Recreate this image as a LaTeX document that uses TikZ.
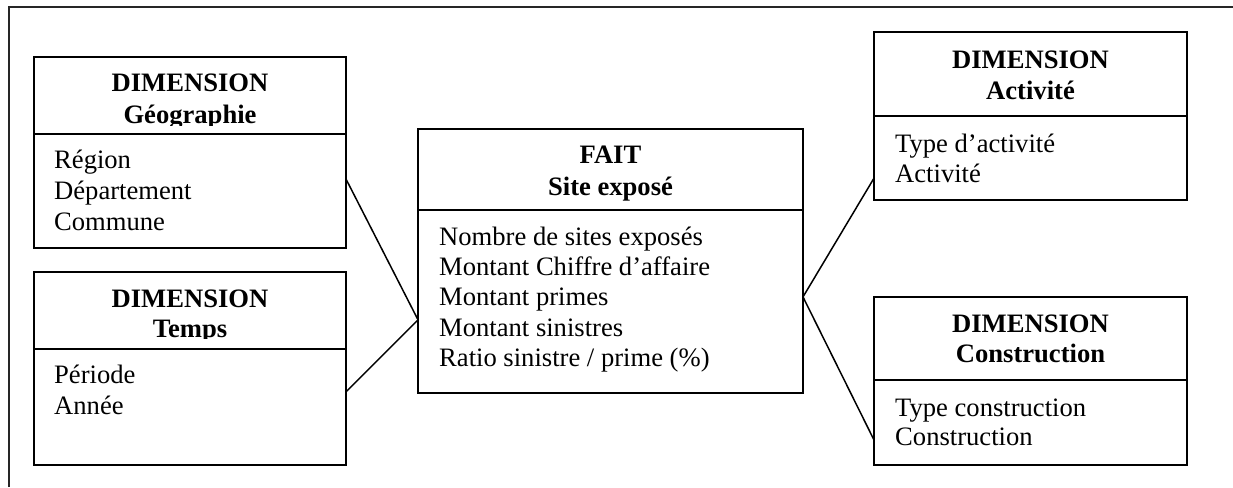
\documentclass[tikz,border=0pt]{standalone}
\usepackage{fontspec}
\setmainfont{Liberation Serif}
\usetikzlibrary{calc}
\begin{document}
\begin{tikzpicture}[x=1pt,y=-1pt,
  cell/.style={draw, line width=2.2pt, fill=white, inner sep=0pt, outer sep=0pt, anchor=north west},
  head/.style={font=\fontsize{26.6}{31}\selectfont\bfseries, anchor=base, inner sep=0pt},
  item/.style={font=\fontsize{26.6}{31}\selectfont, anchor=base west, inner sep=0pt},
  link/.style={line width=1.5pt},
  frame/.style={line width=1.7pt, draw=black!85}]
\useasboundingbox (0,0) rectangle (1233,487);
% outer frame (left and top edges)
\coordinate (fbl) at (9,487);
\coordinate (ftl) at (9,7);
\coordinate (ftr) at (1233,7);
\draw[frame] (fbl) -- (ftl) -- (ftr);

% DIMENSION Geographie
\node[cell, minimum width=312pt, minimum height=77pt] (geoh) at (34,57) {};
\begin{scope}
\clip (34,57) rectangle (346,125.5);
\node[head] (geot1) at (190,92) {DIMENSION};
\node[head] (geot2) at (190,123) {Géographie};
\end{scope}
\node[cell, minimum width=312pt, minimum height=114pt] (geob) at (34,134) {};
\node[item] (geoi1) at (54,168) {Région};
\node[item] (geoi2) at (54,199) {Département};
\node[item] (geoi3) at (54,230) {Commune};

% DIMENSION Temps
\node[cell, minimum width=312pt, minimum height=77pt] (temh) at (34,272) {};
\begin{scope}
\clip (34,272) rectangle (346,338.5);
\node[head] (temt1) at (190,307) {DIMENSION};
\node[head] (temt2) at (190,337) {Temps};
\end{scope}
\node[cell, minimum width=312pt, minimum height=116pt] (temb) at (34,349) {};
\node[item] (temi1) at (54,383) {Période};
\node[item] (temi2) at (54,414) {Année};

% FAIT Site expose
\node[cell, minimum width=385pt, minimum height=81pt] (fach) at (418,129) {};
\node[head] (fact1) at (610.5,163) {FAIT};
\node[head] (fact2) at (610.5,195) {Site exposé};
\node[cell, minimum width=385pt, minimum height=183pt] (facb) at (418,210) {};
\node[item] (faci1) at (439,245) {Nombre de sites exposés};
\node[item] (faci2) at (439,275) {Montant Chiffre d’affaire};
\node[item] (faci3) at (439,305.5) {Montant primes};
\node[item] (faci4) at (439,336) {Montant sinistres};
\node[item] (faci5) at (439,366) {Ratio sinistre / prime (\%)};

% DIMENSION Activite
\node[cell, minimum width=313pt, minimum height=84pt] (acth) at (874,32) {};
\node[head] (actt1) at (1030.5,68) {DIMENSION};
\node[head] (actt2) at (1030.5,99) {Activité};
\node[cell, minimum width=313pt, minimum height=84pt] (actb) at (874,116) {};
\node[item] (acti1) at (895,152) {Type d’activité};
\node[item] (acti2) at (895,182) {Activité};

% DIMENSION Construction
\node[cell, minimum width=313pt, minimum height=83pt] (conh) at (874,297) {};
\node[head] (cont1) at (1030.5,332) {DIMENSION};
\node[head] (cont2) at (1030.5,362) {Construction};
\node[cell, minimum width=313pt, minimum height=85pt] (conb) at (874,380) {};
\node[item] (coni1) at (895,416) {Type construction};
\node[item] (coni2) at (895,445) {Construction};

% connectors
\draw[link] ($(geob.north east)!0.395!(geob.south east)$) -- ($(facb.north west)!0.60!(facb.south west)$);
\draw[link] ($(temb.north east)!0.37!(temb.south east)$) -- ($(facb.north west)!0.60!(facb.south west)$);
\draw[link] ($(facb.north east)!0.475!(facb.south east)$) -- ($(actb.north west)!0.74!(actb.south west)$);
\draw[link] ($(facb.north east)!0.475!(facb.south east)$) -- ($(conb.north west)!0.706!(conb.south west)$);
\end{tikzpicture}
\end{document}
